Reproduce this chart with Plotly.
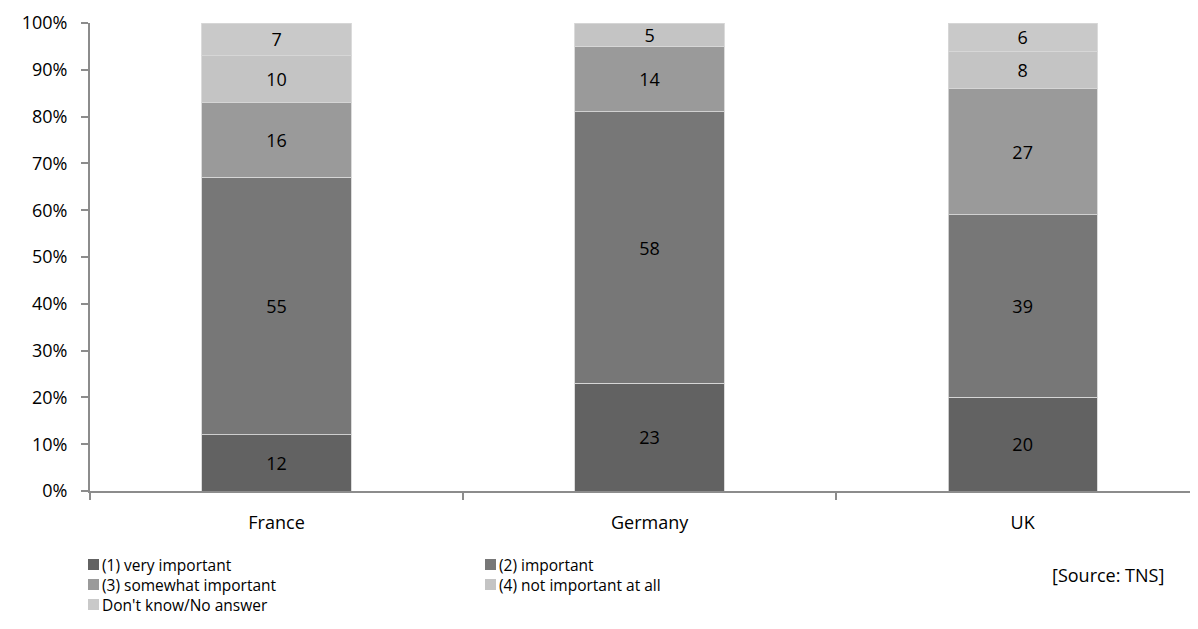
import plotly.graph_objects as go

countries = ["France", "Germany", "UK"]
series_names = ["(1) very important", "(2) important", "(3) somewhat important",
                "(4) not important at all", "Don't know/No answer"]
very_important = [12, 23, 20]
important = [55, 58, 39]
somewhat_important = [16, 14, 27]
not_important = [10, 5, 8]
dont_know = [7, None, 6]
colors = ["#626262", "#777777", "#9a9a9a", "#c4c4c4", "#c9c9c9"]
y_ticks = list(range(0, 101, 10))
source_text = "[Source: TNS]"

all_series = [very_important, important, somewhat_important, not_important, dont_know]

FONT = "Open Sans, sans-serif"
W, H = 1190, 621
L, R, T, B = 82, 0, 15, 138
PW, PH = W - L - R, H - T - B
OFF = 8  # page body margin


def px(x):
    return (x - OFF - L) / PW


def py(y):
    return (T + PH - (y - OFF)) / PH


fig = go.Figure()
for name, vals, col in zip(series_names, all_series, colors):
    fig.add_trace(go.Bar(
        x=countries, y=vals, name=name, showlegend=False,
        marker=dict(color=col, line=dict(color="rgba(215,215,215,0.9)", width=1)),
        text=[("" if v is None else str(v)) for v in vals],
        textposition="inside", insidetextanchor="middle", textangle=0,
        textfont=dict(color="#000000", size=18, family=FONT),
    ))

# legend drawn as real text + square swatches (two columns)
legend_pos = [(88, 565), (485, 565), (88, 585), (485, 585), (88, 605)]
shapes, annotations = [], []
for (lx, ly), name, col in zip(legend_pos, series_names, colors):
    shapes.append(dict(type="rect", xref="paper", yref="paper",
                       x0=px(lx), x1=px(lx + 11), y0=py(ly + 5), y1=py(ly - 6),
                       fillcolor=col, line=dict(width=0)))
    annotations.append(dict(text=name, xref="paper", yref="paper", x=px(lx + 12), y=py(ly),
                            xanchor="left", yanchor="middle", showarrow=False,
                            font=dict(size=15.5, family=FONT, color="#000000")))
annotations.append(dict(text=source_text, xref="paper", yref="paper", x=px(1166), y=py(575),
                        xanchor="right", yanchor="middle", showarrow=False,
                        font=dict(size=18, family=FONT, color="#000000")))

fig.update_layout(
    barmode="stack", bargap=0.6,
    width=W, height=H,
    margin=dict(l=L, r=R, t=T, b=B, autoexpand=False),
    plot_bgcolor="white", paper_bgcolor="white",
    font=dict(family=FONT, size=18, color="#000000"),
    uniformtext=dict(minsize=18, mode="show"),
    showlegend=False,
    shapes=shapes, annotations=annotations,
)

fig.update_xaxes(range=[-0.5, 2.47], showline=True, linecolor="#8c8c8c", linewidth=2,
                 ticks="outside", tickson="boundaries", ticklen=7, tickcolor="#8c8c8c",
                 tickwidth=2, showgrid=False, tickfont=dict(size=18), ticklabelstandoff=14)
fig.update_yaxes(range=[0, 100], tickvals=y_ticks,
                 ticktext=[f"{v}%" for v in y_ticks],
                 showline=True, linecolor="#8c8c8c", linewidth=2, ticks="outside",
                 ticklen=7, tickcolor="#8c8c8c", tickwidth=2, showgrid=False,
                 zeroline=False, tickfont=dict(size=18), ticklabelstandoff=10)

fig.write_html("out.html")
